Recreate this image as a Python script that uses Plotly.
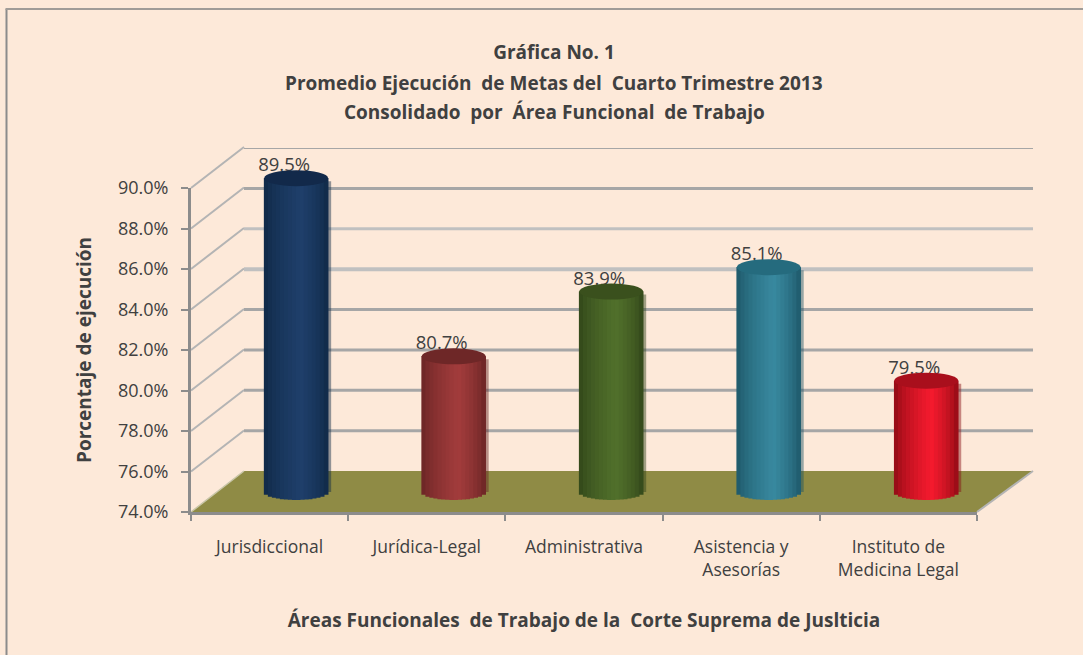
import plotly.graph_objects as go

categories = ["Jurisdiccional", "Jurídica-Legal", "Administrativa", "Asistencia y<br>Asesorías", "Instituto de<br>Medicina Legal"]
values = [89.5, 80.7, 83.9, 85.1, 79.5]
y_ticks = [74, 76, 78, 80, 82, 84, 86, 88, 90]
edge_colors = ["#0E2743", "#642222", "#2F4318", "#1B5263", "#860A12"]
mid_colors = ["#1F3F6B", "#A23C3C", "#51702B", "#38899F", "#F51A2E"]
cap_colors = ["#12294A", "#6E2727", "#3A501D", "#256B7E", "#A90F1C"]
grid_colors = ["#8F8F8F", "#A6A6A6", "#A6A6A6", "#A6A6A6", "#A6A6A6", "#C0C0C0", "#C0C0C0", "#A6A6A6", "#A6A6A6"]
grid_widths = [0, 3, 3, 3, 3, 4, 3, 3, 2]

W, H = 1083, 655
FONT = "'Open Sans', sans-serif"
TEXT = "#404040"
BG = "#FDE9D9"

def dom_x(a, b):
    return [a / W, b / W]

def dom_y(top, bottom):
    return [1 - bottom / H, 1 - top / H]

def hex_rgb(c):
    return [int(c[i:i + 2], 16) for i in (1, 3, 5)]

def mix(a, b, t):
    ra, rb = hex_rgb(a), hex_rgb(b)
    return "rgb(%d,%d,%d)" % tuple(round(p + (q - p) * t) for p, q in zip(ra, rb))

PX_PER_UNIT = 20.25
UNIT_X = 157.55
BAR_W = 64 / UNIT_X
CAP_H = 8 / PX_PER_UNIT
N = 16

fig = go.Figure()

# front axes carry the values themselves (no visible mark)
fig.add_trace(go.Scatter(x=list(range(5)), y=values, mode="markers", marker=dict(opacity=0),
                         hoverinfo="skip", showlegend=False, xaxis="x", yaxis="y"))

# shadows
fig.add_trace(go.Bar(
    x=[i + 3 / UNIT_X for i in range(5)], y=[v - 74 - 0.15 for v in values], base=74, width=BAR_W,
    marker=dict(color=[f"rgba({r},{g},{b},0.45)" for r, g, b in map(hex_rgb, edge_colors)], line_width=0),
    xaxis="x3", yaxis="y3", hoverinfo="skip", showlegend=False))

# cylinder strips: painted left to right, each one overlapping the next
xs, bases, hs, cols = [], [], [], []
for i, v in enumerate(values):
    for k in range(N):
        t = (k + 0.5) / N
        u = 2 * t - 1
        bottom = 74 - CAP_H * (1 - u * u) ** 0.5
        peak = 0.58
        s = t / peak if t < peak else (1 - t) / (1 - peak)
        xs.append(i - BAR_W / 2 + BAR_W * t)
        bases.append(bottom)
        hs.append(v - bottom)
        cols.append(mix(edge_colors[i], mid_colors[i], min(1, s ** 0.6)))
fig.add_trace(go.Bar(x=xs, y=hs, base=bases, width=BAR_W / N + 0.004,
                     marker=dict(color=cols, line=dict(width=0)),
                     xaxis="x3", yaxis="y3", hoverinfo="skip", showlegend=False))

# value labels
fig.add_trace(go.Scatter(
    x=[i - 12 / UNIT_X for i in range(5)], y=values, mode="markers+text",
    marker=dict(size=2, opacity=0),
    text=[f"{v:.1f}%" for v in values], textposition="top center",
    textfont=dict(family=FONT, size=18.5, color=TEXT),
    xaxis="x3", yaxis="y3", hoverinfo="skip", showlegend=False, cliponaxis=False))

shapes = []
# floor
shapes.append(dict(type="path", xref="paper", yref="paper", layer="below",
                   path=f"M {191/W} {1-512/H} L {244/W} {1-471/H} L {1033/W} {1-471/H} L {977/W} {1-512/H} Z",
                   fillcolor="#8F8B45", line_width=0))
# left wall diagonals, and right floor edge
for tv in y_ticks[1:]:
    yf = 512 - (tv - 74) * PX_PER_UNIT
    shapes.append(dict(type="line", xref="paper", yref="paper", layer="below",
                       x0=191 / W, y0=1 - yf / H, x1=244 / W, y1=1 - (yf - 41) / H,
                       line=dict(color="#B4B4B4", width=2)))
shapes.append(dict(type="line", xref="paper", yref="paper", layer="below",
                   x0=191 / W, y0=1 - 512 / H, x1=244 / W, y1=1 - 471 / H,
                   line=dict(color="#C9C6A8", width=1.5)))
shapes.append(dict(type="line", xref="paper", yref="paper", layer="below",
                   x0=977 / W, y0=1 - 512 / H, x1=1033 / W, y1=1 - 471 / H,
                   line=dict(color="#B4B4B4", width=2)))
# back gridlines
for tv, c, w in zip(y_ticks, grid_colors, grid_widths):
    if w:
        shapes.append(dict(type="line", xref="x2", yref="y2", layer="below",
                           x0=-0.5, x1=4.5, y0=tv, y1=tv, line=dict(color=c, width=w)))
# cylinder caps
for i, v in enumerate(values):
    shapes.append(dict(type="circle", xref="x3", yref="y3", layer="above",
                       x0=i - BAR_W / 2, x1=i + BAR_W / 2, y0=v - CAP_H, y1=v + CAP_H,
                       fillcolor=cap_colors[i], line_width=0))
# border
shapes.append(dict(type="line", xref="paper", yref="paper", x0=6.5 / W, x1=6.5 / W, y0=0, y1=1 - 9 / H,
                   line=dict(color="#8C8C8C", width=2)))
shapes.append(dict(type="line", xref="paper", yref="paper", x0=5.5 / W, x1=1, y0=1 - 9 / H, y1=1 - 9 / H,
                   line=dict(color="#A09C98", width=2)))

def note(text, cx, cy, size=19):
    return dict(text=f"<b>{text}</b>", xref="paper", yref="paper",
                x=cx / W, y=1 - cy / H, xanchor="center", yanchor="middle", showarrow=False,
                font=dict(family=FONT, size=size, color=TEXT))

annotations = [
    note("Promedio Ejecución  de Metas del  Cuarto Trimestre 2013", 554, 83),
    note("Consolidado  por  Área Funcional  de Trabajo", 554, 112),
]

fig.update_layout(
    width=W, height=H, margin=dict(l=0, r=0, t=0, b=0), autosize=False,
    paper_bgcolor=BG, plot_bgcolor="rgba(0,0,0,0)",
    barmode="overlay", showlegend=False, shapes=shapes, annotations=annotations,
    title=dict(text="<b>Gráfica No. 1</b>", x=554 / W, xanchor="center", y=1 - 52 / H, yanchor="middle",
               font=dict(family=FONT, size=19, color=TEXT)),
    xaxis=dict(domain=dom_x(191, 977), range=[-0.5, 4.5], tickmode="array", tickvals=list(range(5)),
               ticktext=categories, ticks="", showline=True, linecolor="#8C8C8C", linewidth=3,
               showgrid=False, zeroline=False, anchor="y", ticklabelstandoff=17, automargin=False,
               tickfont=dict(family=FONT, size=17.5, color=TEXT),
               title=dict(text="<b>Áreas Funcionales  de Trabajo de la  Corte Suprema de Juslticia</b>", standoff=34,
                          font=dict(family=FONT, size=19, color=TEXT)),
               minor=dict(tickmode="array", tickvals=[i - 0.5 for i in range(6)], ticks="outside",
                          ticklen=6, tickcolor="#8C8C8C", tickwidth=2)),
    yaxis=dict(domain=dom_y(188, 512), range=[74, 90], tickmode="array", tickvals=y_ticks,
               ticktext=[f"{t:.1f}%" for t in y_ticks], ticks="outside", ticklen=7,
               tickcolor="#8C8C8C", tickwidth=2, showline=True, linecolor="#8C8C8C", linewidth=3,
               showgrid=False, zeroline=False, anchor="x", ticklabelstandoff=9, automargin=False,
               tickfont=dict(family=FONT, size=18, color=TEXT),
               title=dict(text="<b>Porcentaje de ejecución</b>", standoff=22,
                          font=dict(family=FONT, size=19, color=TEXT))),
    xaxis2=dict(domain=dom_x(244, 1033), range=[-0.5, 4.5], visible=False, anchor="y2"),
    yaxis2=dict(domain=dom_y(148, 471), range=[74, 90], visible=False, anchor="x2"),
    xaxis3=dict(domain=dom_x(217.4, 1005), range=[-0.5, 4.5], visible=False, anchor="y3"),
    yaxis3=dict(domain=dom_y(492 - 17 * PX_PER_UNIT, 492 + PX_PER_UNIT), range=[73, 91], visible=False, anchor="x3"),
)

fig.write_html("out.html", config={"displayModeBar": False}, post_script="document.body.style.margin='0';")
